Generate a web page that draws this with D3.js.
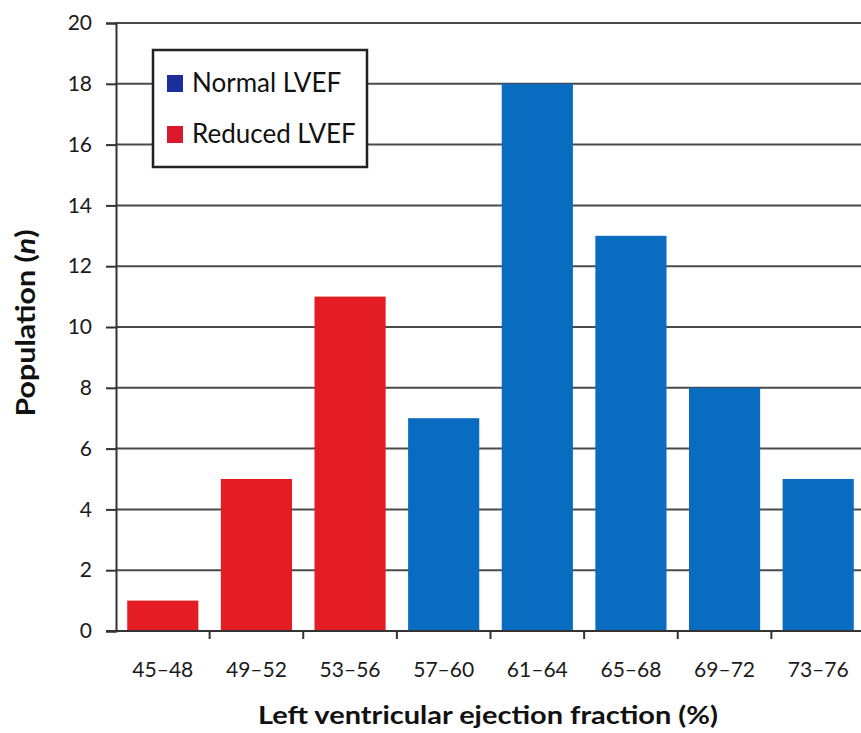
<!DOCTYPE html>
<html><head><meta charset="utf-8">
<script src="https://cdn.jsdelivr.net/npm/d3@7"></script>
<style>body{margin:0;background:#fff}svg{display:block}</style>
</head><body>
<svg id="c" width="861" height="733"></svg>
<script>
const categories = ["45–48","49–52","53–56","57–60","61–64","65–68","69–72","73–76"];
const values = [1,5,11,7,18,13,8,5];
const groups = ["Reduced","Reduced","Reduced","Normal","Normal","Normal","Normal","Normal"];
const yTicks = [0,2,4,6,8,10,12,14,16,18,20];
const legendLabels = ["Normal LVEF","Reduced LVEF"];

const colors = {Normal:"#0a6cc0", Reduced:"#e41c24"};
const legendColors = ["#1b2f9c","#d9182b"];
const font = "Lato, 'Open Sans', sans-serif";

const svg = d3.select("#c");
const x = d3.scaleBand().domain(categories).range([116, 865]).paddingInner(0.24).paddingOuter(0.12);
const y = d3.scaleLinear().domain([0,20]).range([631, 23]);

// gridlines
svg.append("g").selectAll("line").data(yTicks.filter(d=>d>0)).join("line")
  .attr("x1",116).attr("x2",861).attr("y1",d=>y(d)).attr("y2",d=>y(d))
  .attr("stroke","#4a4a4a").attr("stroke-width",2);

// bars
svg.append("g").selectAll("rect").data(values).join("rect")
  .attr("x",(d,i)=>x(categories[i])).attr("width",x.bandwidth())
  .attr("y",d=>y(d)).attr("height",d=>y(0)-y(d))
  .attr("fill",(d,i)=>colors[groups[i]]);

// y axis
const ya = svg.append("g").attr("transform","translate(116,0)")
  .call(d3.axisLeft(y).tickValues(yTicks).tickSize(10).tickPadding(14));
ya.select(".domain").attr("stroke","#333").attr("stroke-width",2);
ya.selectAll(".tick line").attr("stroke","#333").attr("stroke-width",2);
ya.selectAll(".tick text").attr("font-family",font).attr("font-size",21).attr("fill","#1a1a1a");

// x axis
const step = x.step();
const xa = svg.append("g").attr("transform","translate(0,631)");
xa.append("line").attr("x1",106).attr("x2",861).attr("y1",0).attr("y2",0).attr("stroke","#333").attr("stroke-width",2);
xa.selectAll("line.t").data(categories.slice(1)).join("line").attr("class","t")
  .attr("x1",d=>x(d)-x.paddingInner()*step/2).attr("x2",d=>x(d)-x.paddingInner()*step/2)
  .attr("y1",0).attr("y2",8).attr("stroke","#333").attr("stroke-width",2);
xa.selectAll("text").data(categories).join("text")
  .attr("x",d=>x(d)+x.bandwidth()/2).attr("y",46).attr("text-anchor","middle")
  .attr("font-family",font).attr("font-size",21).attr("fill","#1a1a1a")
  .attr("textLength",61).attr("lengthAdjust","spacingAndGlyphs").text(d=>d);

// axis titles
svg.append("text").attr("x",488).attr("y",724).attr("text-anchor","middle")
  .attr("font-family",font).attr("font-weight","bold").attr("font-size",25).attr("fill","#111")
  .attr("textLength",460).attr("lengthAdjust","spacingAndGlyphs")
  .text("Left ventricular ejection fraction (%)");
const ylg = svg.append("g").attr("transform","translate(35,323) rotate(-90)");
const yl = ylg.append("text").attr("text-anchor","middle")
  .attr("font-family",font).attr("font-weight","bold").attr("font-size",26).attr("fill","#111");
yl.append("tspan").text("Population (");
yl.append("tspan").attr("font-style","italic").text("n");
yl.append("tspan").text(")");
const ylw = yl.node().getBBox().width;
yl.attr("transform",`scale(${187/ylw},1)`);

// legend
const lg = svg.append("g");
lg.append("rect").attr("x",153).attr("y",50).attr("width",214).attr("height",117)
  .attr("fill","#fff").attr("stroke","#222").attr("stroke-width",2.5);
legendLabels.forEach((l,i)=>{
  const base = 92 + i*51;
  lg.append("rect").attr("x",167).attr("y",base-17).attr("width",16).attr("height",17).attr("fill",legendColors[i]);
  lg.append("text").attr("x",192).attr("y",base).attr("font-family",font).attr("font-size",26).attr("fill","#111").text(l);
});
</script>
</body></html>
